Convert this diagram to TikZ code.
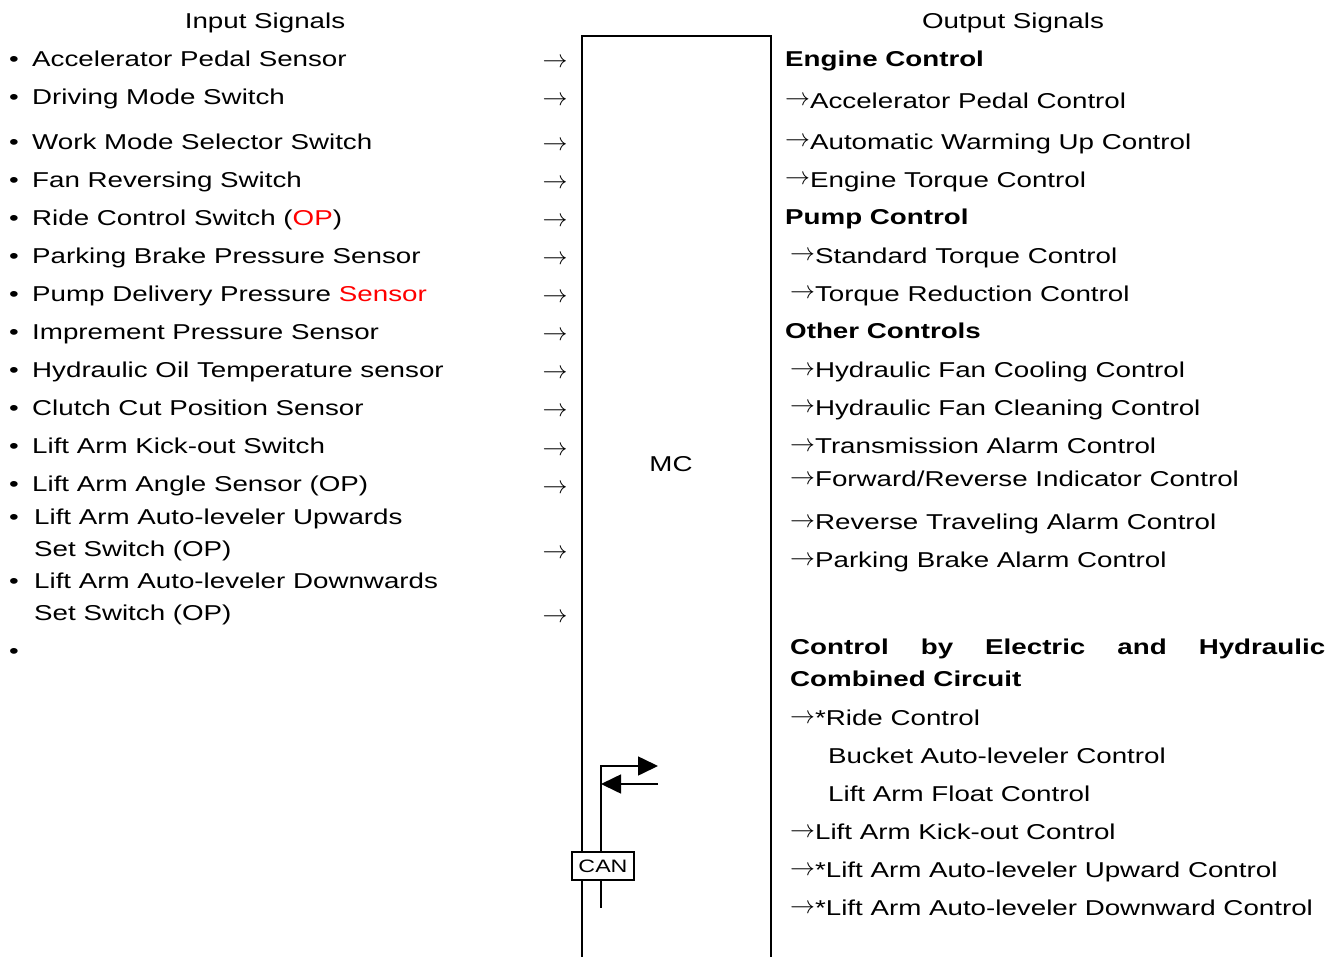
\documentclass[tikz,border=0pt]{standalone}
\usepackage{fontspec}
\setmainfont{Liberation Sans}[FakeStretch=1.29]
\usetikzlibrary{arrows.meta}
\newcommand{\myarr}{\raisebox{2.5pt}{\fontsize{24}{26}\selectfont$\rightarrow$}}
\begin{document}
\begin{tikzpicture}[x=1pt,y=-1pt,
  txt/.style={font=\fontsize{21.5}{26}\selectfont, inner sep=0pt, anchor=base west},
  bld/.style={txt, font=\fontsize{21.5}{26}\selectfont\bfseries},
  ttl/.style={font=\fontsize{21.5}{26}\selectfont, inner sep=0pt, anchor=base},
  bul/.style={font=\fontsize{21.5}{26}\selectfont, inner sep=0pt, anchor=base},
  arr/.style={font=\fontsize{24}{26}\selectfont, inner sep=0pt, anchor=base},
  edge/.style={line width=2pt},
  thin/.style={line width=1.6pt},
  tip/.style={-{Triangle[length=20pt,width=19pt]}}
]
\useasboundingbox (0,0) rectangle (1341,957);
% titles
\node[ttl] (tin) at (265,28.5) {Input Signals};
\node[ttl] (tout) at (1013,28.5) {Output Signals};
% MC box
\coordinate (b1) at (582,958);
\coordinate (b2) at (582,36);
\coordinate (b3) at (771,36);
\coordinate (b4) at (771,958);
\draw[edge] (b1) -- (b2) -- (b3) -- (b4);
\node[font=\fontsize{21.5}{26}\selectfont, inner sep=0pt] (mc) at (671,464) {MC};
% left inputs
\foreach \n/\y/\t in {
 1/66.5/{Accelerator Pedal Sensor},
 2/104.5/{Driving Mode Switch},
 3/149.5/{Work Mode Selector Switch},
 4/187.5/{Fan Reversing Switch},
 5/225.5/{Ride Control Switch (\textcolor{red}{OP})},
 6/263.5/{Parking Brake Pressure Sensor},
 7/301.5/{Pump Delivery Pressure \textcolor{red}{Sensor}},
 8/339.5/{Imprement Pressure Sensor},
 9/377.5/{Hydraulic Oil Temperature sensor},
 10/415.5/{Clutch Cut Position Sensor},
 11/453.5/{Lift Arm Kick-out Switch},
 12/491.5/{Lift Arm Angle Sensor (OP)}}{
  \node[bul] (bl\n) at (14,\y) {•};
  \node[txt] (l\n) at (32,\y) {\t};
}
\node[bul] (bl13) at (14,524.5) {•};
\node[txt] (l13a) at (34,524.5) {Lift Arm Auto-leveler Upwards};
\node[txt] (l13b) at (34,556.5) {Set Switch (OP)};
\node[bul] (bl14) at (14,588.5) {•};
\node[txt] (l14a) at (34,588.5) {Lift Arm Auto-leveler Downwards};
\node[txt] (l14b) at (34,620.5) {Set Switch (OP)};
\node[bul] (bl15) at (14,658.5) {•};
% left arrows
\foreach \n/\y in {1/68,2/106,3/151,4/189,5/227,6/265,7/303,8/341,9/379,10/417,11/455,12/493,13/558,14/622}{
  \node[arr] (a\n) at (555,\y) {$\rightarrow$};
}
% right outputs
\node[bld] (r1) at (785,66.5) {Engine Control};
\node[txt] (r2) at (785,108.5) {\myarr Accelerator Pedal Control};
\node[txt] (r3) at (785,149.5) {\myarr Automatic Warming Up Control};
\node[txt] (r4) at (785,187.5) {\myarr Engine Torque Control};
\node[bld] (r5) at (785,224.5) {Pump Control};
\node[txt] (r6) at (790,263.5) {\myarr Standard Torque Control};
\node[txt] (r7) at (790,301.5) {\myarr Torque Reduction Control};
\node[bld] (r8) at (785,338.5) {Other Controls};
\node[txt] (r9) at (790,377.5) {\myarr Hydraulic Fan Cooling Control};
\node[txt] (r10) at (790,415.5) {\myarr Hydraulic Fan Cleaning Control};
\node[txt] (r11) at (790,453.5) {\myarr Transmission Alarm Control};
\node[txt] (r12) at (790,486.5) {\myarr Forward/Reverse Indicator Control};
\node[txt] (r13) at (790,529.5) {\myarr Reverse Traveling Alarm Control};
\node[txt] (r14) at (790,567.5) {\myarr Parking Brake Alarm Control};
\node[bld] (r15) at (790,654.5) {\makebox[535pt][s]{Control by Electric and Hydraulic}};
\node[bld] (r16) at (790,686.5) {Combined Circuit};
\node[txt] (r17) at (790,725.5) {\myarr *Ride Control};
\node[txt] (r18) at (828,763.5) {Bucket Auto-leveler Control};
\node[txt] (r19) at (828,801.5) {Lift Arm Float Control};
\node[txt] (r20) at (790,839.5) {\myarr Lift Arm Kick-out Control};
\node[txt] (r21) at (790,877.5) {\myarr *Lift Arm Auto-leveler Upward Control};
\node[txt] (r22) at (790,915.5) {\myarr *Lift Arm Auto-leveler Downward Control};
% CAN
\node[draw, line width=1.4pt, fill=white, minimum width=62pt, minimum height=28pt, inner sep=0pt,
  font=\fontsize{18}{20}\selectfont] (can) at (603,866) {CAN};
\coordinate (c0) at (601,766);
\coordinate (c1) at (658,766);
\coordinate (c2) at (658,784);
\coordinate (c3) at (601,784);
\coordinate (c4) at (601,908);
\draw[thin, tip] (can.north -| c0) -- (c0) -- (c1);
\draw[thin, tip] (c2) -- (c3);
\draw[thin] (can.south -| c4) -- (c4);
\end{tikzpicture}
\end{document}
